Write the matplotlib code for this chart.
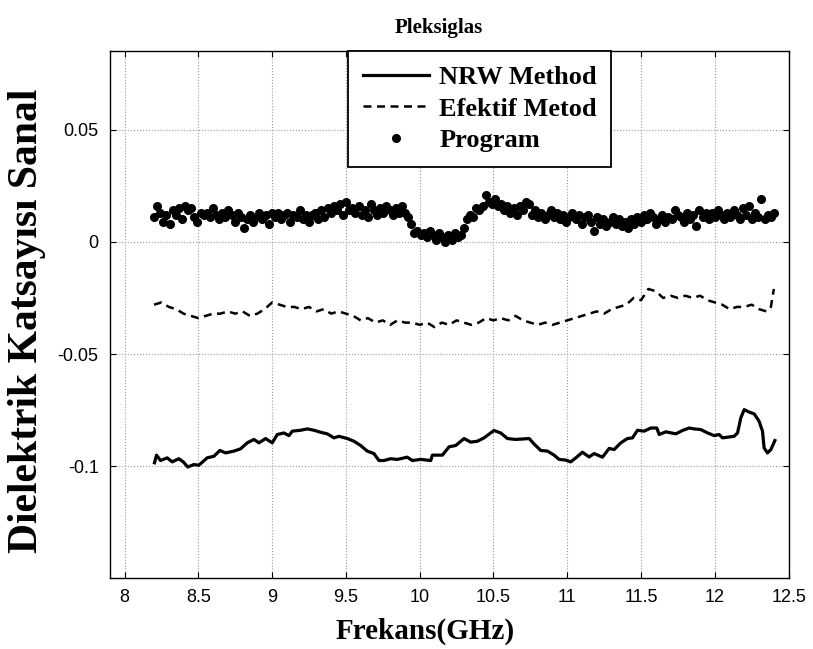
import numpy as np
import matplotlib
matplotlib.use('Agg')
import matplotlib.pyplot as plt

# NRW metodu (kalin duz cizgi)
f_nrw = [8.203, 8.217, 8.244, 8.289, 8.323, 8.368, 8.398, 8.429, 8.470, 8.504,
         8.560, 8.606, 8.646, 8.685, 8.741, 8.786, 8.832, 8.877, 8.911, 8.956,
         9.001, 9.035, 9.080, 9.114, 9.137, 9.193, 9.239, 9.284, 9.329, 9.374,
         9.419, 9.453, 9.510, 9.555, 9.600, 9.645, 9.690, 9.724, 9.758, 9.803,
         9.849, 9.916, 9.950, 10.007, 10.075, 10.086, 10.154, 10.199, 10.244, 10.301,
         10.346, 10.391, 10.436, 10.481, 10.504, 10.549, 10.595, 10.651, 10.742, 10.775,
         10.820, 10.866, 10.911, 10.945, 10.990, 11.024, 11.058, 11.103, 11.148, 11.182,
         11.239, 11.284, 11.318, 11.363, 11.408, 11.442, 11.476, 11.521, 11.566, 11.607,
         11.623, 11.668, 11.736, 11.781, 11.826, 11.860, 11.905, 11.951, 11.996, 12.029,
         12.052, 12.131, 12.154, 12.176, 12.199, 12.233, 12.267, 12.300, 12.323, 12.334,
         12.357, 12.380, 12.407]
e_nrw = [-0.0985, -0.0951, -0.0975, -0.0963, -0.0981, -0.0967, -0.0981, -0.1004, -0.0993, -0.0996,
         -0.0963, -0.0956, -0.0930, -0.0941, -0.0933, -0.0923, -0.0896, -0.0881, -0.0896, -0.0877,
         -0.0896, -0.0859, -0.0852, -0.0864, -0.0844, -0.0840, -0.0834, -0.0840, -0.0849, -0.0856,
         -0.0874, -0.0867, -0.0877, -0.0889, -0.0908, -0.0933, -0.0944, -0.0975, -0.0975, -0.0967,
         -0.0970, -0.0960, -0.0975, -0.0970, -0.0975, -0.0951, -0.0951, -0.0914, -0.0908, -0.0877,
         -0.0893, -0.0889, -0.0874, -0.0852, -0.0841, -0.0852, -0.0877, -0.0881, -0.0877, -0.0901,
         -0.0930, -0.0933, -0.0951, -0.0970, -0.0973, -0.0981, -0.0963, -0.0938, -0.0959, -0.0944,
         -0.0960, -0.0921, -0.0926, -0.0896, -0.0877, -0.0874, -0.0840, -0.0844, -0.0830, -0.0830,
         -0.0859, -0.0847, -0.0856, -0.0841, -0.0830, -0.0834, -0.0837, -0.0852, -0.0864, -0.0859,
         -0.0874, -0.0867, -0.0852, -0.0785, -0.0748, -0.0759, -0.0767, -0.0800, -0.0844, -0.0919,
         -0.0941, -0.0926, -0.0886]

# Efektif metod (kesikli cizgi)
f_efk = [8.20, 8.25, 8.30, 8.35, 8.40, 8.45, 8.50, 8.55, 8.60, 8.65, 8.70, 8.75, 8.80,
         8.85, 8.90, 8.95, 9.00, 9.05, 9.10, 9.15, 9.20, 9.25, 9.30, 9.35, 9.40, 9.45,
         9.50, 9.55, 9.60, 9.65, 9.70, 9.75, 9.80, 9.85, 9.90, 9.95, 10.00, 10.05, 10.10,
         10.15, 10.20, 10.25, 10.30, 10.35, 10.40, 10.45, 10.50, 10.55, 10.60, 10.65, 10.70,
         10.75, 10.80, 10.85, 10.90, 10.95, 11.00, 11.05, 11.10, 11.15, 11.20, 11.25, 11.30,
         11.35, 11.40, 11.45, 11.50, 11.55, 11.60, 11.65, 11.70, 11.75, 11.80, 11.85, 11.90,
         11.95, 12.00, 12.05, 12.10, 12.15, 12.20, 12.25, 12.30, 12.35, 12.38, 12.40]
e_efk = [-0.028, -0.027, -0.029, -0.030, -0.032, -0.033, -0.034, -0.033, -0.032, -0.032, -0.031, -0.032, -0.031,
         -0.033, -0.032, -0.030, -0.027, -0.028, -0.029, -0.029, -0.030, -0.029, -0.031, -0.030, -0.032, -0.031,
         -0.032, -0.033, -0.035, -0.034, -0.036, -0.035, -0.037, -0.035, -0.036, -0.036, -0.037, -0.036, -0.038,
         -0.036, -0.037, -0.035, -0.036, -0.037, -0.036, -0.034, -0.035, -0.034, -0.035, -0.033, -0.035,
         -0.036, -0.037, -0.036, -0.037, -0.036, -0.035, -0.034, -0.033, -0.032, -0.031, -0.032, -0.030,
         -0.029, -0.028, -0.025, -0.026, -0.021, -0.022, -0.025, -0.024, -0.025, -0.024, -0.025, -0.024,
         -0.026, -0.027, -0.028, -0.030, -0.029, -0.029, -0.028, -0.030, -0.031, -0.029, -0.021]

# Program (noktalar)
f_prg = np.linspace(8.2, 12.4, 201)
e_prg = [0.011, 0.016, 0.013, 0.009, 0.012, 0.008, 0.014, 0.012, 0.015, 0.010,
         0.016, 0.014, 0.015, 0.011, 0.009, 0.013, 0.012, 0.013, 0.011, 0.015,
         0.012, 0.010, 0.013, 0.011, 0.014, 0.012, 0.009, 0.013, 0.011, 0.006,
         0.010, 0.012, 0.009, 0.011, 0.013, 0.010, 0.012, 0.008, 0.013, 0.011,
         0.013, 0.010, 0.012, 0.013, 0.009, 0.012, 0.011, 0.014, 0.010, 0.012,
         0.009, 0.012, 0.013, 0.010, 0.014, 0.011, 0.015, 0.013, 0.016, 0.014,
         0.017, 0.012, 0.018, 0.014, 0.015, 0.013, 0.016, 0.012, 0.014, 0.011,
         0.017, 0.014, 0.012, 0.015, 0.013, 0.016, 0.014, 0.012, 0.015, 0.013,
         0.016, 0.013, 0.011, 0.008, 0.004, 0.005, 0.003, 0.004, 0.002, 0.005,
         0.003, 0.001, 0.004, 0.002, 0.000, 0.003, 0.001, 0.004, 0.002, 0.003,
         0.006, 0.010, 0.012, 0.011, 0.015, 0.014, 0.016, 0.021, 0.018, 0.017,
         0.019, 0.016, 0.017, 0.014, 0.016, 0.013, 0.015, 0.012, 0.016, 0.014,
         0.018, 0.017, 0.012, 0.014, 0.011, 0.013, 0.010, 0.012, 0.014, 0.011,
         0.013, 0.010, 0.012, 0.009, 0.011, 0.013, 0.010, 0.012, 0.008, 0.011,
         0.012, 0.009, 0.005, 0.011, 0.008, 0.010, 0.007, 0.009, 0.011, 0.008,
         0.010, 0.007, 0.009, 0.006, 0.010, 0.008, 0.011, 0.009, 0.012, 0.010,
         0.013, 0.011, 0.008, 0.010, 0.012, 0.009, 0.011, 0.010, 0.014, 0.012,
         0.011, 0.009, 0.013, 0.010, 0.012, 0.007, 0.014, 0.011, 0.013, 0.010,
         0.013, 0.011, 0.014, 0.012, 0.010, 0.013, 0.011, 0.014, 0.012, 0.010,
         0.015, 0.012, 0.016, 0.010, 0.013, 0.011, 0.019, 0.010, 0.012, 0.011, 0.013]

xticks = [8, 8.5, 9, 9.5, 10, 10.5, 11, 11.5, 12, 12.5]
yticks = [-0.1, -0.05, 0, 0.05]

serif = 'Liberation Serif'
sans = 'Liberation Sans'

fig = plt.figure(figsize=(8.13, 6.49), dpi=100)
ax = fig.add_axes([0.135, 0.109, 0.835, 0.812])

ax.plot(f_nrw, e_nrw, '-', color='k', lw=2.3, label='NRW Method')
ax.plot(f_efk, e_efk, '--', color='k', lw=1.8, dashes=(3.2, 2.2), label='Efektif Metod')
ax.plot(f_prg, e_prg, '.', color='k', ms=11, label='Program')

ax.set_xlim(7.9, 12.5)
ax.set_ylim(-0.15, 0.085)
ax.set_xticks(xticks)
ax.set_xticklabels(['8', '8.5', '9', '9.5', '10', '10.5', '11', '11.5', '12', '12.5'])
ax.set_yticks(yticks)
ax.set_yticklabels(['-0.1', '-0.05', '0', '0.05'])
for lab in ax.get_xticklabels() + ax.get_yticklabels():
    lab.set_fontfamily(sans)
    lab.set_fontsize(13)
ax.tick_params(direction='in', top=True, right=True, length=4, width=0.8, pad=8)
ax.grid(True, linestyle=':', color='#999999', lw=0.8)
for s in ax.spines.values():
    s.set_linewidth(1.0)

ax.set_title('Pleksiglas', fontfamily=serif, fontweight='bold', fontsize=15, pad=13, x=0.485)
ax.set_xlabel('Frekans(GHz)', fontfamily=serif, fontweight='bold', fontsize=21, labelpad=2)
ax.xaxis.set_label_coords(0.464, -0.075)
ax.set_ylabel('Dielektrik Katsayısı Sanal', fontfamily=serif, fontweight='bold', fontsize=30)
ax.yaxis.set_label_coords(-0.094, 0.488)

leg = ax.legend(loc='upper center', bbox_to_anchor=(0.545, 1.0), borderaxespad=0,
                prop={'family': serif, 'weight': 'bold', 'size': 19},
                fancybox=False, edgecolor='k', framealpha=1, handlelength=2.5,
                handletextpad=0.4, labelspacing=0.3, borderpad=0.55)
leg.get_frame().set_linewidth(1.3)

fig.savefig('out.png', dpi=100)
